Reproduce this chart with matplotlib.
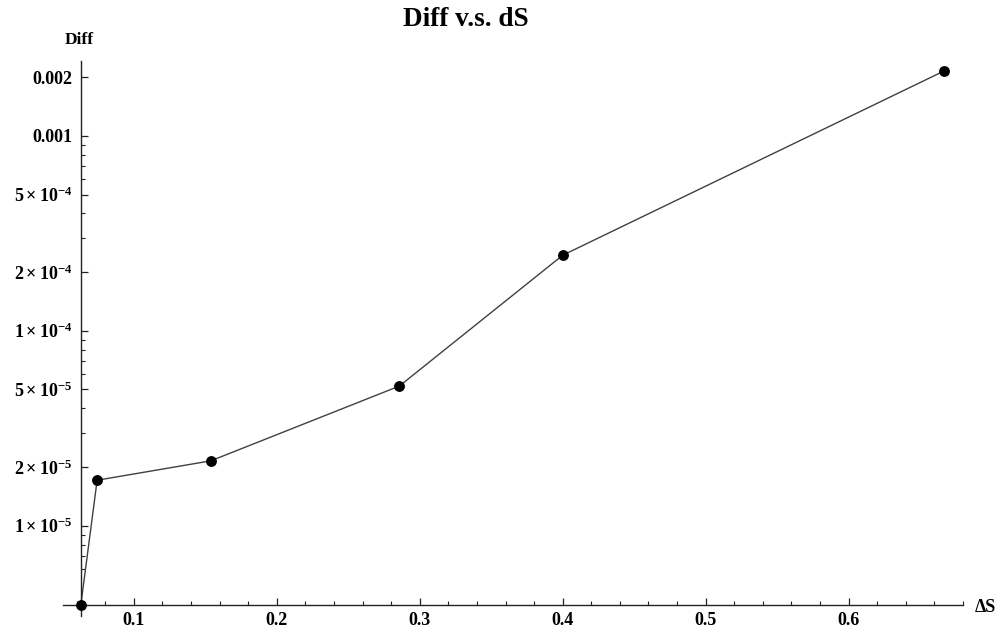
import matplotlib
matplotlib.use("Agg")
import matplotlib.pyplot as plt
from matplotlib.ticker import FixedLocator, FixedFormatter

# step sizes and the measured difference at each one
ds = [0.0629, 0.0743, 0.1538, 0.2857, 0.4, 0.6667]
diff = [3.92e-6, 1.71e-5, 2.15e-5, 5.2e-5, 2.44e-4, 2.15e-3]

x_major = [0.1, 0.2, 0.3, 0.4, 0.5, 0.6]
x_labels = ["0.1", "0.2", "0.3", "0.4", "0.5", "0.6"]
y_major = [1e-5, 2e-5, 5e-5, 1e-4, 2e-4, 5e-4, 1e-3, 2e-3]
y_labels = [r"$1\times10^{-5}$", r"$2\times10^{-5}$", r"$5\times10^{-5}$",
            r"$1\times10^{-4}$", r"$2\times10^{-4}$", r"$5\times10^{-4}$",
            "0.001", "0.002"]

plt.rcParams["font.family"] = ["Liberation Serif", "DejaVu Serif"]
plt.rcParams["font.weight"] = "bold"
plt.rcParams["mathtext.fontset"] = "custom"
plt.rcParams["mathtext.rm"] = "Liberation Serif:bold"
plt.rcParams["mathtext.it"] = "Liberation Serif:bold"
plt.rcParams["mathtext.bf"] = "Liberation Serif:bold"
plt.rcParams["mathtext.default"] = "rm"

fig = plt.figure(figsize=(10.01, 6.33), dpi=100)
ax = fig.add_axes([0.0629, 0.0269, 0.962 - 0.0629, 0.9036 - 0.0269])

ax.plot(ds, diff, color="#404040", lw=1.0, zorder=2)
ax.plot(ds, diff, "o", color="black", ms=6.8, zorder=3, clip_on=False)

ax.set_yscale("log")
ax.set_xlim(0.0504, 0.68)
ax.set_ylim(3.44e-6, 2.42e-3)

# axes cross at the first data point
for s in ["top", "right"]:
    ax.spines[s].set_visible(False)
ax.spines["left"].set_position(("data", ds[0]))
ax.spines["bottom"].set_position(("data", diff[0]))
for s in ["left", "bottom"]:
    ax.spines[s].set_linewidth(1.0)
    ax.spines[s].set_color("#222222")

ax.xaxis.set_major_locator(FixedLocator(x_major))
ax.xaxis.set_major_formatter(FixedFormatter(x_labels))
x_minor = [round(0.06 + 0.02 * i, 2) for i in range(32)]
x_minor = [v for v in x_minor if v <= 0.68 and round(v * 10, 6) % 1 != 0]
ax.xaxis.set_minor_locator(FixedLocator(x_minor))

ax.yaxis.set_major_locator(FixedLocator(y_major))
ax.yaxis.set_major_formatter(FixedFormatter(y_labels))
y_minor = []
for e in [1e-6, 1e-5, 1e-4, 1e-3]:
    for m in range(1, 10):
        v = m * e
        if 3.44e-6 <= v <= 2.42e-3 and m not in (1, 2, 5):
            y_minor.append(v)
ax.yaxis.set_minor_locator(FixedLocator(y_minor))
ax.yaxis.set_minor_formatter(FixedFormatter([""] * len(y_minor)))

ax.tick_params(which="major", direction="in", length=5, width=0.9, color="#222222",
               labelsize=13)
ax.tick_params(which="minor", direction="in", length=3, width=0.8, color="#222222")
ax.tick_params(axis="x", pad=5)
ax.tick_params(axis="y", pad=6)

fig.text(0.4655, 0.969, "Diff v.s. dS", ha="center", va="center",
         fontsize=19.5, fontweight="bold")
fig.text(79 / 1001, 1 - 40 / 633, "Diff", ha="center", va="center",
         fontsize=12.5, fontweight="bold")
fig.text(985 / 1001, 1 - 607 / 633, "ΔS", ha="center", va="center",
         fontsize=13, fontweight="bold")

fig.savefig("out.png", dpi=100)
